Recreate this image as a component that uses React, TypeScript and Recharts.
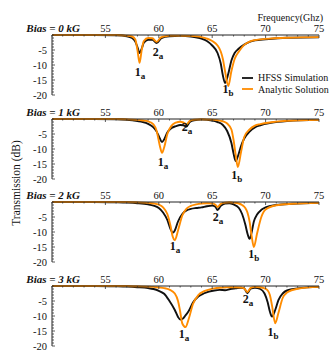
import { LineChart, Line, XAxis, YAxis, Legend, ReferenceDot } from 'recharts'

const SERIF = '"Liberation Serif", "Times New Roman", serif'
const BLACK = '#111'
const ORANGE = '#ff8c00'

// Bias = 0 kG
const freq0 = [50, 54, 56, 57, 57.5, 57.8, 58, 58.2, 58.4, 58.6, 59, 59.4, 59.8, 60.2, 60.6, 61, 62, 63, 64, 64.5, 65, 65.5, 65.8, 66, 66.2, 66.5, 66.8, 67.1, 67.5, 68, 68.5, 69, 70, 72, 75]
const hfss0 = [0, 0, -0.1, -0.4, -1.0, -2.2, -4.0, -6.0, -4.5, -2.6, -1.6, -1.6, -2.7, -1.2, -0.6, -0.4, -0.3, -0.5, -1.2, -2.0, -3.5, -6.0, -9.5, -13.5, -16.0, -13.0, -8.5, -6.0, -4.5, -3.2, -2.3, -1.8, -1.4, -0.9, -0.8]
const analytic0 = [0, 0, 0, -0.2, -0.5, -1.5, -5.0, -9.3, -5.0, -2.0, -1.0, -1.1, -2.3, -0.8, -0.4, -0.2, -0.2, -0.3, -0.7, -1.2, -2.0, -3.5, -5.5, -8.0, -12.0, -17.0, -12.0, -8.0, -5.5, -3.3, -2.2, -1.7, -1.3, -0.9, -0.7]

// Bias = 1 kG
const freq1 = [50, 54, 56, 57, 58, 58.5, 59, 59.5, 59.8, 60.1, 60.3, 60.5, 60.8, 61.2, 61.6, 62, 62.3, 62.6, 62.9, 63.3, 64, 65, 65.5, 66, 66.4, 66.8, 67, 67.2, 67.4, 67.7, 68, 68.5, 69, 69.5, 70.5, 72, 75]
const hfss1 = [0, 0, -0.1, -0.3, -0.7, -1.0, -1.6, -2.8, -4.2, -6.5, -7.7, -6.8, -4.5, -3.0, -2.4, -2.0, -2.1, -2.5, -1.0, -0.4, -0.2, -0.5, -1.0, -2.0, -4.0, -8.0, -11.5, -14.0, -12.5, -9.0, -6.5, -4.2, -2.8, -2.1, -1.3, -0.7, -0.3]
const analytic1 = [0, 0, 0, -0.1, -0.3, -0.5, -0.8, -1.8, -4.0, -9.0, -11.3, -9.5, -5.0, -2.2, -1.2, -0.9, -1.1, -1.8, -0.6, -0.2, -0.1, -0.2, -0.4, -0.8, -1.5, -3.5, -7.0, -12.0, -16.0, -11.0, -6.0, -3.5, -2.2, -1.7, -1.1, -0.6, -0.3]

// Bias = 2 kG
const freq2 = [50, 54, 56, 57, 58, 59, 59.5, 60, 60.4, 60.8, 61.1, 61.3, 61.5, 61.8, 62.2, 62.6, 63, 63.5, 64, 64.5, 65, 65.3, 65.5, 65.8, 66.2, 66.6, 67, 67.5, 67.8, 68.1, 68.3, 68.5, 68.7, 68.9, 69.2, 69.6, 70, 71, 72.5, 75]
const hfss2 = [0, 0, -0.1, -0.2, -0.4, -0.8, -1.2, -2.0, -3.5, -6.0, -9.0, -10.3, -9.5, -6.5, -4.0, -2.8, -2.3, -2.0, -1.8, -1.4, -1.2, -1.6, -2.7, -1.3, -0.5, -0.4, -0.8, -2.0, -4.0, -7.5, -10.5, -12.3, -10.0, -6.5, -4.2, -2.6, -1.8, -1.0, -0.6, -0.3]
const analytic2 = [0, 0, 0, 0, -0.1, -0.3, -0.5, -0.9, -1.8, -4.0, -8.0, -11.5, -12.7, -9.5, -4.5, -2.2, -1.3, -0.8, -0.5, -0.4, -0.5, -0.9, -1.7, -0.6, -0.2, -0.1, -0.2, -0.5, -1.0, -2.0, -3.5, -6.5, -11.5, -15.0, -10.5, -5.0, -2.5, -1.1, -0.6, -0.3]

// Bias = 3 kG
const freq3 = [50, 54, 56, 57, 58, 59, 59.5, 60, 60.5, 61, 61.5, 61.8, 62, 62.2, 62.5, 62.8, 63.2, 63.7, 64.2, 64.7, 65.2, 65.7, 66.2, 66.7, 67.2, 67.7, 68, 68.3, 68.6, 69, 69.5, 69.9, 70.2, 70.4, 70.6, 70.9, 71.2, 71.6, 72, 73, 75]
const hfss3 = [0, 0, -0.1, -0.2, -0.4, -0.7, -1.0, -1.6, -2.6, -5.0, -8.0, -10.3, -11.2, -11.0, -9.8, -8.3, -5.5, -3.5, -2.5, -1.9, -1.5, -1.3, -1.4, -1.0, -0.8, -0.6, -0.8, -2.4, -0.9, -0.6, -1.0, -2.5, -5.5, -8.5, -10.2, -8.0, -4.7, -2.5, -1.5, -0.8, -0.3]
const analytic3 = [0, 0, 0, 0, -0.1, -0.2, -0.3, -0.5, -0.7, -1.2, -2.5, -5.0, -8.5, -12.5, -13.7, -11.0, -6.0, -3.0, -1.8, -1.2, -0.8, -0.6, -0.5, -0.4, -0.4, -0.5, -0.8, -2.0, -0.6, -0.3, -0.4, -0.8, -1.5, -3.0, -6.5, -12.4, -9.0, -4.0, -2.2, -0.9, -0.3]

const seriesNames = ['HFSS Simulation', 'Analytic Solution']
const biasLabels = ['Bias = 0 kG', 'Bias = 1 kG', 'Bias = 2 kG', 'Bias = 3 kG']
const xMajor = [55, 60, 65, 70, 75]
const yMajor = [-5, -10, -15, -20]

// mode labels: name, subscript, anchor (GHz, dB)
const marks0 = [
  { n: '1', s: 'a', f: 58.24, db: -13.7 },
  { n: '2', s: 'a', f: 59.93, db: -7.0 },
  { n: '1', s: 'b', f: 66.48, db: -19.2 },
]
const marks1 = [
  { n: '1', s: 'a', f: 60.39, db: -15.7 },
  { n: '2', s: 'a', f: 62.64, db: -4.0 },
  { n: '1', s: 'b', f: 67.3, db: -20.0 },
]
const marks2 = [
  { n: '1', s: 'a', f: 61.52, db: -16.0 },
  { n: '2', s: 'a', f: 65.54, db: -6.3 },
  { n: '1', s: 'b', f: 68.9, db: -18.7 },
]
const marks3 = [
  { n: '1', s: 'a', f: 62.36, db: -17.3 },
  { n: '2', s: 'a', f: 68.35, db: -5.7 },
  { n: '1', s: 'b', f: 70.69, db: -16.7 },
]

const xTicks = Array.from({ length: 26 }, (_, i) => 50 + i)
const yTicks = Array.from({ length: 21 }, (_, i) => -20 + i)

function XTick({ x, y, payload }: any) {
  const v = payload.value
  const major = xMajor.includes(v)
  return (
    <g>
      <line x1={x} x2={x} y1={y} y2={y + (major ? 3 : 1.5)} stroke="#333" strokeWidth={0.8} />
      {major && (
        <text x={x} y={y - 3} textAnchor="middle" fontSize={10.5} fill="#111" fontFamily={SERIF}>
          {v}
        </text>
      )}
    </g>
  )
}

function YTick({ x, y, payload }: any) {
  const v = payload.value
  const major = yMajor.includes(v)
  return (
    <g>
      <line x1={x} x2={x + (major ? 3 : 2)} y1={y} y2={y} stroke="#333" strokeWidth={0.8} />
      {major && (
        <text x={x - 5} y={y} dy="0.35em" textAnchor="end" fontSize={10.5} fill="#111" fontFamily={SERIF}>
          {v}
        </text>
      )}
    </g>
  )
}

function ModeLabel({ cx, cy, n, s }: any) {
  if (cx == null || cy == null) return <g />
  return (
    <text x={cx} y={cy} textAnchor="middle" fontSize={12} fontWeight="bold" fill="#111" fontFamily={SERIF}>
      {n}
      <tspan fontSize={9} dy={3}>{s}</tspan>
    </text>
  )
}

function LegendBox({ payload }: any) {
  const items = [...(payload || [])].sort(
    (a: any, b: any) => seriesNames.indexOf(a.value) - seriesNames.indexOf(b.value)
  )
  return (
    <div style={{ fontFamily: SERIF, fontSize: 10, color: '#111' }}>
      {items.map((p: any) => (
        <div key={p.value} style={{ display: 'flex', alignItems: 'center', height: 11.5, whiteSpace: 'nowrap' }}>
          <svg width={16} height={4}>
            <line x1={0} x2={11} y1={2} y2={2} stroke={p.color} strokeWidth={1.8} />
          </svg>
          <span>{p.value}</span>
        </div>
      ))}
    </div>
  )
}

function Panel({ top, freq, hfss, analytic, marks, legend }: any) {
  const rows = freq.map((f: number, i: number) => ({ f, hfss: hfss[i], analytic: analytic[i] }))
  return (
    <div style={{ position: 'absolute', left: 0, top }}>
      <LineChart width={331} height={88} data={rows} margin={{ top: 0, right: 12, bottom: 8, left: 0 }}>
        <XAxis
          dataKey="f"
          type="number"
          domain={[50, 75]}
          ticks={xTicks}
          interval={0}
          orientation="top"
          height={20}
          tickSize={0}
          tickMargin={0}
          tick={(p: any) => <XTick {...p} />}
          stroke="#222"
        />
        <YAxis
          type="number"
          domain={[-20, 0]}
          ticks={yTicks}
          interval={0}
          width={52}
          tickSize={0}
          tickMargin={0}
          tick={(p: any) => <YTick {...p} />}
          stroke="#222"
        />
        <Line type="monotone" dataKey="hfss" name={seriesNames[0]} stroke={BLACK} strokeWidth={1.9} dot={false} isAnimationActive={false} />
        <Line type="monotone" dataKey="analytic" name={seriesNames[1]} stroke={ORANGE} strokeWidth={1.9} dot={false} isAnimationActive={false} />
        {marks.map((m: any, i: number) => (
          <ReferenceDot
            key={i}
            x={m.f}
            y={m.db}
            r={0}
            ifOverflow="visible"
            shape={(p: any) => <ModeLabel cx={p.cx} cy={p.cy} n={m.n} s={m.s} />}
          />
        ))}
        {legend && (
          <Legend
            layout="vertical"
            align="center"
            verticalAlign="middle"
            wrapperStyle={{ left: 242, top: 57, width: 'auto', height: 'auto' }}
            content={(p: any) => <LegendBox {...p} />}
          />
        )}
      </LineChart>
    </div>
  )
}

const axisTops = [35, 119, 202, 286]

export default function App() {
  return (
    <div style={{ position: 'absolute', left: 0, top: 0, width: 331, height: 354, background: '#fff', overflow: 'hidden' }}>
      <Panel top={axisTops[0] - 20} freq={freq0} hfss={hfss0} analytic={analytic0} marks={marks0} legend />
      <Panel top={axisTops[1] - 20} freq={freq1} hfss={hfss1} analytic={analytic1} marks={marks1} />
      <Panel top={axisTops[2] - 20} freq={freq2} hfss={hfss2} analytic={analytic2} marks={marks2} />
      <Panel top={axisTops[3] - 20} freq={freq3} hfss={hfss3} analytic={analytic3} marks={marks3} />
      <svg width={331} height={354} style={{ position: 'absolute', left: 0, top: 0, pointerEvents: 'none' }}>
        <text x={323} y={21} textAnchor="end" fontSize={10} fill="#111" fontFamily={SERIF}>
          Frequency(Ghz)
        </text>
        <text
          x={0}
          y={0}
          transform="translate(20,183) rotate(-90)"
          textAnchor="middle"
          fontSize={11.5}
          fill="#111"
          fontFamily={SERIF}
        >
          Transmission (dB)
        </text>
        {biasLabels.map((b, i) => (
          <text
            key={b}
            x={80}
            y={axisTops[i] - 3}
            textAnchor="end"
            fontSize={11}
            fontWeight="bold"
            fontStyle="italic"
            fill="#111"
            fontFamily={SERIF}
          >
            {b}
          </text>
        ))}
      </svg>
    </div>
  )
}
